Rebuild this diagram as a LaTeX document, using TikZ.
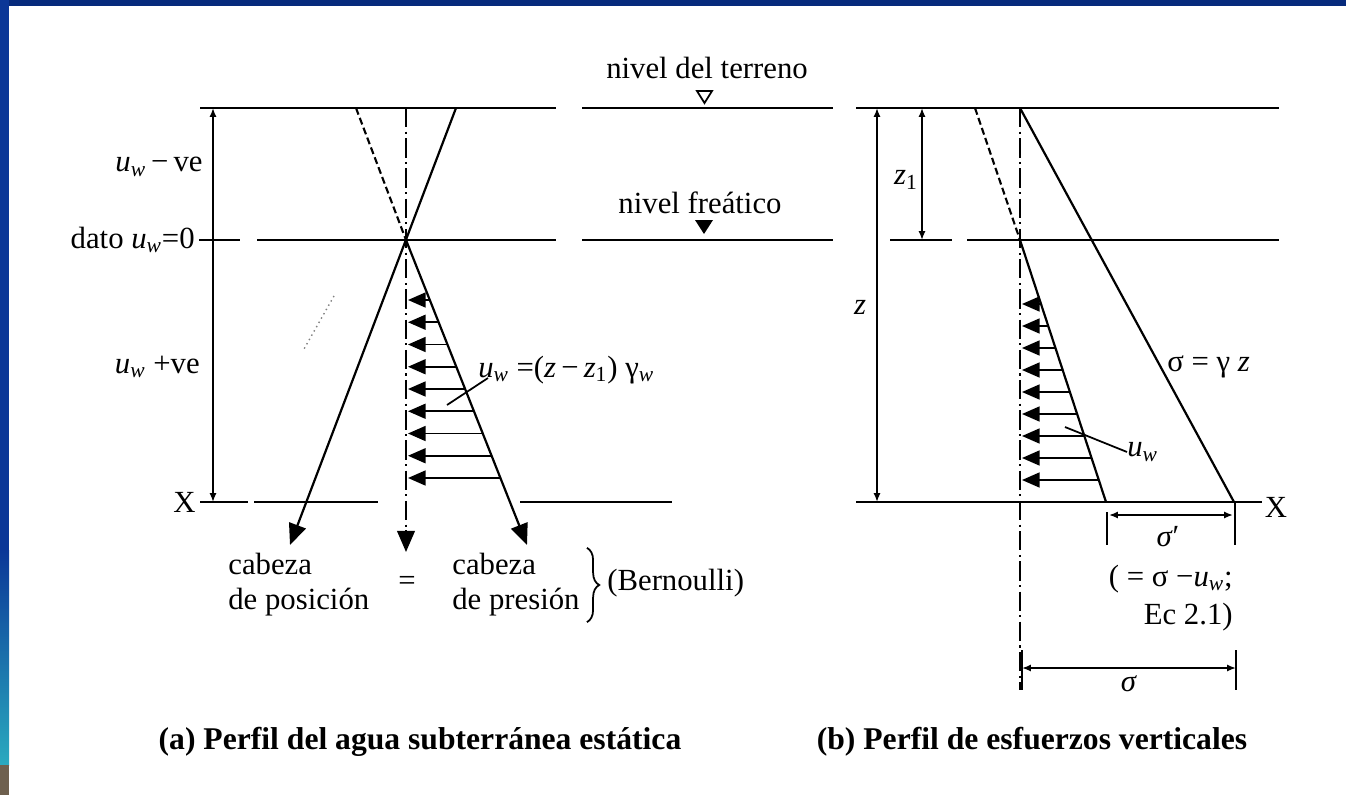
\documentclass[tikz,border=0pt]{standalone}
\usepackage{fontspec}
\setmainfont{Liberation Serif}
\usepackage{tikz}
\usetikzlibrary{
  arrows.meta,
  decorations.pathreplacing,
  calc}

\definecolor{frameblue}{HTML}{062A7C}
\definecolor{sideblue}{HTML}{0B3797}
\definecolor{sideteal}{HTML}{2AAABF}
\definecolor{sidebrown}{HTML}{6E604E}

\newcommand{\uw}{\textit{u}\textsubscript{\textit{w}}}

\tikzset{
  lvl/.style={line width=1.25pt},
  thin line/.style={line width=1pt},
  dimarr/.style={line width=1pt,{Latex[length=5pt,width=4pt]}-{Latex[length=5pt,width=4pt]}},
  push/.style={line width=1pt,-{Triangle[length=10pt,width=8.5pt]}},
  bigtip/.style={line width=1.25pt,-{Triangle[length=12pt,width=10pt]}},
  dashdot/.style={line width=1.2pt,dash pattern=on 11pt off 2.5pt on 1.2pt off 2.5pt},
  shortdash/.style={line width=1.2pt,dash pattern=on 4pt off 2pt},
  lbl/.style={inner sep=0pt,font=\fontsize{17.5}{20}\selectfont},
  ttl/.style={inner sep=0pt,font=\fontsize{18}{20}\selectfont\bfseries}
}

\begin{document}
\begin{tikzpicture}[x=0.02cm,y=-0.02cm]
  \useasboundingbox (0,0) rectangle (1346,795);
  \fill[white] (0,0) rectangle (1346,795);
  \fill[frameblue] (0,0) rectangle (1346,6);
  \fill[sideblue] (0,0) rectangle (9,550);
  \shade[top color=sideblue,bottom color=sideteal] (0,550) rectangle (9,765);
  \fill[sidebrown] (0,765) rectangle (9,795);

  % levels
  \draw[lvl] (200,108) -- (556,108) (582,108) -- (833,108) (856,108) -- (1279,108);
  \draw[lvl] (199,240) -- (240,240) (257,240) -- (556,240) (582,240) -- (833,240)
    (890,240) -- (952,240) (967,240) -- (1279,240);
  \draw[lvl] (200,502) -- (248,502) (254,502) -- (378,502) (520,502) -- (672,502)
    (856,502) -- (1262,502);
  \draw[thin line] (697,91) -- (712,91) -- (704.5,103) -- cycle;
  \fill (695,220) -- (713,220) -- (704,234) -- cycle;
  \node[lbl] (terreno) at (707,68) {nivel del terreno};
  \node[lbl] (freatico) at (700,203) {nivel freático};

  % (a)
  \coordinate (pa) at (406,240);
  \coordinate (ta) at (456,108);
  \coordinate (da) at (356,108);
  \coordinate (la) at (290,545);
  \coordinate (ra) at (527,545);
  \draw[dimarr] (213,108) -- (213,502);
  \draw[dashdot] (406,108) -- (406,535);
  \draw[bigtip] (406,530) -- (406,552);
  \draw[bigtip] (ta) -- (la);
  \draw[shortdash] (da) -- (pa);
  \draw[bigtip] (pa) -- (ra);
  \draw[line width=0.8pt,dotted,gray] (334,296) -- (304,349);
  \foreach \i in {0,...,8} {
    \pgfmathsetmacro\yy{300+22.25*\i}
    \pgfmathsetmacro\xx{406+(\yy-240)*0.3967}
    \draw[push] (\xx,\yy) -- (408,\yy);
  }
  \node[lbl,anchor=east] (uwneg) at (203,167) {\uw\,−\,ve};
  \node[lbl,anchor=east] (dato) at (195,240) {dato \uw{}=0};
  \node[lbl,anchor=east] (uwpos) at (200,367) {\uw{} +ve};
  \node[lbl,anchor=east] (xa) at (196,502) {X};
  \node[lbl,anchor=west] (uwa) at (478,370)
    {\uw{} =(\textit{z}\,−\,\textit{z}\textsubscript{1}) γ\textsubscript{\textit{w}}};
  \coordinate (uwatip) at (447,405);
  \draw[thin line] (uwatip) -- ($(uwa.west)+(10,8)$);
  \node[lbl,anchor=west,align=left] (cabpos) at (228,585) {cabeza\\de posición};
  \node[lbl] (igual) at (407,583) {=};
  \node[lbl,anchor=west,align=left] (cabpres) at (452,585) {cabeza\\de presión};
  \draw[thin line,decorate,decoration={brace,amplitude=7pt}]
    ([xshift=4pt,yshift=3pt]cabpres.north east) -- ([xshift=4pt,yshift=-3pt]cabpres.south east);
  \node[lbl,anchor=west] (bern) at (607,583) {(Bernoulli)};

  % (b)
  \coordinate (pb) at (1020,240);
  \coordinate (tb) at (1020,108);
  \coordinate (db) at (975,108);
  \coordinate (sb) at (1234,502);
  \coordinate (ub) at (1106,502);
  \draw[dashdot] (1020,108) -- (1020,690);
  \draw[shortdash] (db) -- (pb);
  \draw[lvl] (tb) -- (sb);
  \draw[lvl] (pb) -- (ub);
  \foreach \i in {0,...,8} {
    \pgfmathsetmacro\yy{304+22*\i}
    \pgfmathsetmacro\xx{1020+(\yy-240)*0.3282}
    \draw[push] (\xx,\yy) -- (1022,\yy);
  }
  \draw[dimarr] (877,108) -- (877,502);
  \draw[dimarr] (922,108) -- (922,240);
  \node[lbl] (z) at (860,307) {\textit{z}};
  \node[lbl] (zone) at (906,180) {\textit{z}\textsubscript{1}};
  \node[lbl,anchor=west] (sigma) at (1167,367) {σ = γ \textit{z}};
  \node[lbl,anchor=west] (uwb) at (1127,452) {\uw};
  \coordinate (uwbtip) at (1065,427);
  \draw[thin line] (uwbtip) -- (uwb.west);
  \node[lbl] (xb) at (1276,507) {X};
  \draw[thin line] (1107,512) -- (1107,545) (1235,502) -- (1235,545);
  \draw[dimarr] (1109,515) -- (1233,515);
  \node[lbl] (sigprima) at (1168,537) {\textit{σ}′};
  \node[lbl,anchor=east,align=right,font=\fontsize{17.5}{22}\selectfont] (sigeq) at (1233,598)
    {( = σ −\uw;\\Ec 2.1)};
  \draw[thin line] (1022,650) -- (1022,690) (1236,650) -- (1236,690);
  \draw[dimarr] (1022,668) -- (1236,668);
  \node[lbl] (sigtot) at (1129,684) {\textit{σ}};

  \node[ttl] (tita) at (420,742) {(a) Perfil del agua subterránea estática};
  \node[ttl] (titb) at (1032,742) {(b) Perfil de esfuerzos verticales};
\end{tikzpicture}
\end{document}
